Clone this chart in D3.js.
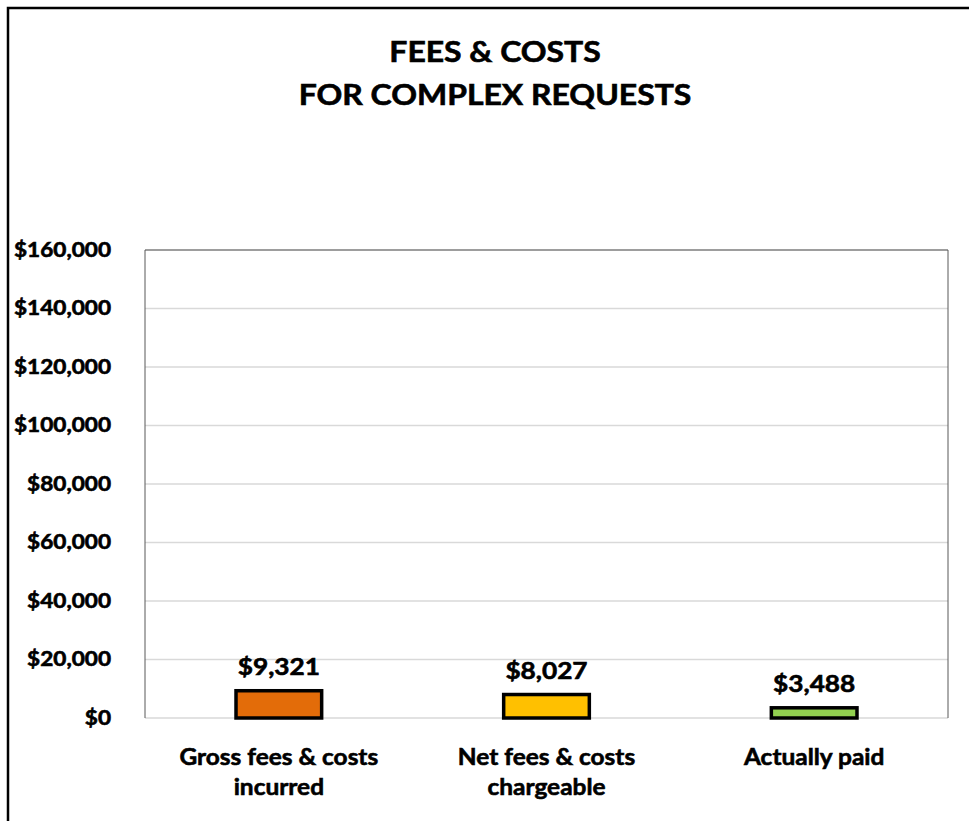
<!DOCTYPE html>
<html>
<head>
<meta charset="utf-8">
<script src="https://cdn.jsdelivr.net/npm/d3@7"></script>
<style>
  html, body { margin: 0; padding: 0; background: #fff; }
  svg { display: block; font-family: Lato, "Open Sans", sans-serif; font-weight: bold; }
  .heavy { stroke: #000; stroke-width: 0.6px; paint-order: stroke; }
</style>
</head>
<body>
<svg id="chart" width="969" height="821"></svg>
<script>
// Fee totals for complex requests
const categories = [["Gross fees & costs", "incurred"], ["Net fees & costs", "chargeable"], ["Actually paid"]];
const values = [9321, 8027, 3488];
const barColors = ["#E36C09", "#FFC000", "#92D050"];
const titleLines = ["FEES & COSTS", "FOR COMPLEX REQUESTS"];
const yTicks = [0, 20000, 40000, 60000, 80000, 100000, 120000, 140000, 160000];

const W = 969, H = 821;
const margin = { top: 250, right: 21, bottom: 103, left: 145 };
const innerW = W - margin.left - margin.right;
const innerH = H - margin.top - margin.bottom;
const money = d => "$" + d3.format(",")(d);

const svg = d3.select("#chart");

// Outer chart frame (only top and left edges fall inside the window)
svg.append("rect")
  .attr("x", 8).attr("y", 8)
  .attr("width", W + 20).attr("height", H + 20)
  .attr("fill", "none").attr("stroke", "#000").attr("stroke-width", 2.5);

// Title
svg.append("g").selectAll("text").data(titleLines).join("text")
  .attr("class", "heavy")
  .attr("transform", (d, i) => `translate(495,${62 + i * 43}) scale(1.14,1)`)
  .attr("text-anchor", "middle")
  .attr("font-size", 28)
  .attr("fill", "#000")
  .text(d => d);

const x = d3.scaleBand()
  .domain(d3.range(values.length))
  .range([0, innerW])
  .paddingInner(0.68)
  .paddingOuter(0.34);

const y = d3.scaleLinear().domain([0, 160000]).range([innerH, 0]);

const g = svg.append("g").attr("transform", `translate(${margin.left},${margin.top})`);

// Gridlines
g.append("g").selectAll("line").data(yTicks).join("line")
  .attr("x1", 0).attr("x2", innerW)
  .attr("y1", d => y(d)).attr("y2", d => y(d))
  .attr("stroke", "#d9d9d9").attr("stroke-width", 1.5);

// Plot area border (top, left, right)
g.append("path")
  .attr("d", `M0,${innerH} V0 H${innerW} V${innerH}`)
  .attr("fill", "none").attr("stroke", "#595959").attr("stroke-width", 1);

// Y axis labels
const yAxis = d3.axisLeft(y)
  .tickValues(yTicks)
  .tickSize(0)
  .tickPadding(0)
  .tickFormat(money);
const ya = svg.append("g")
  .attr("transform", `translate(111,${margin.top})`)
  .call(yAxis);
ya.select(".domain").remove();
ya.selectAll("text")
  .attr("class", "heavy")
  .attr("transform", "scale(1.13,1)")
  .attr("font-size", 20)
  .attr("font-family", "Lato, sans-serif")
  .attr("font-weight", "bold")
  .attr("fill", "#000");

// Bars
const bw = x.bandwidth();
g.append("g").selectAll("rect").data(values).join("rect")
  .attr("x", (d, i) => x(i))
  .attr("y", d => y(d))
  .attr("width", bw)
  .attr("height", d => innerH - y(d))
  .attr("fill", (d, i) => barColors[i])
  .attr("stroke", "#000")
  .attr("stroke-width", 3.5);

// Value labels
g.append("g").selectAll("text").data(values).join("text")
  .attr("class", "heavy")
  .attr("transform", (d, i) => `translate(${x(i) + bw / 2},${y(d) - 16}) scale(1.14,1)`)
  .attr("text-anchor", "middle")
  .attr("font-size", 23)
  .attr("fill", "#000")
  .text(money);

// Category labels
const cat = g.append("g").selectAll("text").data(categories).join("text")
  .attr("class", "heavy")
  .attr("transform", (d, i) => `translate(${x(i) + bw / 2},${innerH + 47}) scale(1.04,1)`)
  .attr("text-anchor", "middle")
  .attr("font-size", 23.5)
  .attr("fill", "#000");
cat.selectAll("tspan").data(d => d).join("tspan")
  .attr("x", 0)
  .attr("dy", (d, i) => i === 0 ? 0 : 30)
  .text(d => d);
</script>
</body>
</html>
